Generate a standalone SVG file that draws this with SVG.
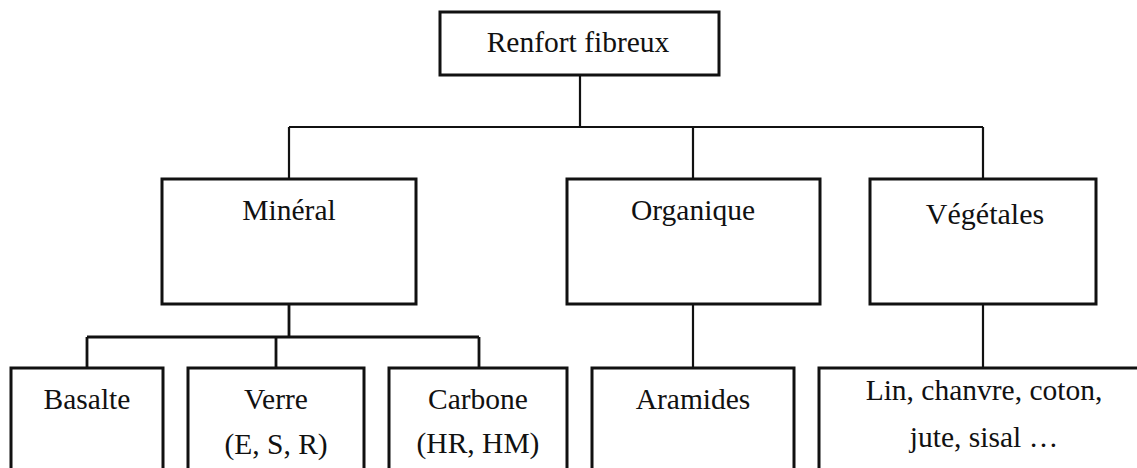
<svg xmlns="http://www.w3.org/2000/svg" width="1137" height="468" viewBox="0 0 1137 468">
<style>
.box{fill:#fff;stroke:#111;stroke-width:3}
.lbl{font-family:"Liberation Serif","Times New Roman",serif;font-size:29.5px;fill:#111;text-anchor:middle}
.c{fill:none;stroke:#111;stroke-width:2.2}
.ct{fill:none;stroke:#111;stroke-width:2.8}
</style>
<rect width="1137" height="468" fill="#fff"/>
<g id="connectors">
<path class="c" d="M580 75V127M289 127H983M289 127V179M693 127V179M983 127V179"/>
<path class="ct" d="M289 304V337M87 337H479M87 337V368M276 337V368M479 337V368"/>
<path class="c" d="M693 304V368M983 304V368"/>
</g>
<g id="renfort"><rect class="box" x="440" y="12" width="279" height="63"/><text class="lbl" x="578" y="52" font-size="30">Renfort fibreux</text></g>
<g id="mineral"><rect class="box" x="162" y="179" width="254" height="125"/><text class="lbl" x="289" y="220">Minéral</text></g>
<g id="organique"><rect class="box" x="567" y="179" width="253" height="125"/><text class="lbl" x="693" y="220">Organique</text></g>
<g id="vegetales"><rect class="box" x="870" y="179" width="226" height="125"/><text class="lbl" x="985" y="224" style="font-size:30px">Végétales</text></g>
<g id="basalte"><rect class="box" x="11" y="368" width="152" height="120"/><text class="lbl" x="87" y="409">Basalte</text></g>
<g id="verre"><rect class="box" x="188" y="368" width="176" height="120"/><text class="lbl" x="276" y="409">Verre</text><text class="lbl" x="276" y="454">(E, S, R)</text></g>
<g id="carbone"><rect class="box" x="389" y="368" width="178" height="120"/><text class="lbl" x="478" y="409">Carbone</text><text class="lbl" x="478" y="453">(HR, HM)</text></g>
<g id="aramides"><rect class="box" x="592" y="368" width="202" height="120"/><text class="lbl" x="693" y="409">Aramides</text></g>
<g id="lin"><rect class="box" x="819" y="368" width="340" height="120"/><text class="lbl" x="984" y="400">Lin, chanvre, coton,</text><text class="lbl" x="984" y="447">jute, sisal …</text></g>
</svg>
